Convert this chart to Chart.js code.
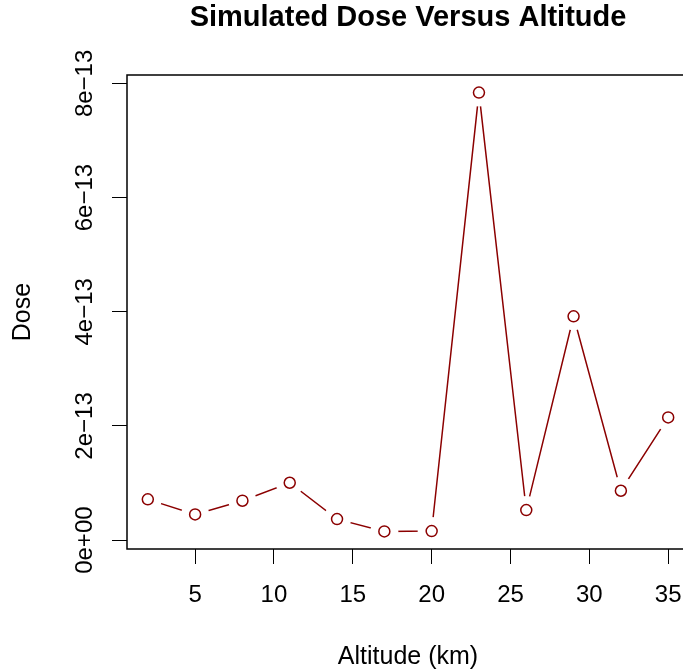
<!DOCTYPE html>
<html>
<head>
<meta charset="utf-8">
<script src="https://cdn.jsdelivr.net/npm/chart.js@4/dist/chart.umd.min.js"></script>
<style>
  html, body { margin: 0; padding: 0; overflow: hidden; background: #fff; }
  canvas { display: block; }
</style>
</head>
<body>
<canvas id="doseChart" width="700" height="671"></canvas>
<script>
// altitude (km) and simulated dose
const altitudes = [2, 5, 8, 11, 14, 17, 20, 23, 26, 29, 32, 35];
const doses = [0.714e-13, 0.45e-13, 0.69e-13, 1.005e-13, 0.368e-13, 0.152e-13,
               0.158e-13, 7.84e-13, 0.526e-13, 3.92e-13, 0.865e-13, 2.15e-13];
const xTicks = [5, 10, 15, 20, 25, 30, 35];
const yTicks = [0, 2e-13, 4e-13, 6e-13, 8e-13];
const yTickLabels = ["0e+00", "2e\u221213", "4e\u221213", "6e\u221213", "8e\u221213"];

const FONT = "'Liberation Sans', Arial, Helvetica, sans-serif";
const RED = "#8B0000";

const points = altitudes.map((a, i) => ({ x: a, y: doses[i] }));

// R-style extras: box, rotated y labels, main title
const rStyle = {
  id: "rStyle",
  afterDraw(chart) {
    const { ctx, chartArea } = chart;
    const yScale = chart.scales.y;
    ctx.save();
    ctx.strokeStyle = "#000";
    ctx.lineWidth = 1.5;
    ctx.strokeRect(chartArea.left, chartArea.top,
                   chartArea.right - chartArea.left, chartArea.bottom - chartArea.top);

    ctx.fillStyle = "#000";
    ctx.font = "24px " + FONT;
    ctx.textAlign = "center";
    ctx.textBaseline = "middle";
    yTicks.forEach((v, i) => {
      const y = yScale.getPixelForValue(v);
      ctx.save();
      ctx.translate(85, y);
      ctx.rotate(-Math.PI / 2);
      ctx.fillText(yTickLabels[i], 0, 0);
      ctx.restore();
    });

    ctx.font = "bold 29px " + FONT;
    ctx.textBaseline = "alphabetic";
    ctx.fillText("Simulated Dose Versus Altitude",
                 (chartArea.left + chartArea.right) / 2, 26);
    ctx.restore();
  }
};

new Chart(document.getElementById("doseChart"), {
  type: "scatter",
  data: {
    datasets: [
      {
        // connecting line
        data: points,
        showLine: true,
        borderColor: RED,
        borderWidth: 1.5,
        pointRadius: 0,
        order: 3
      },
      {
        // white gap round each point, like type = "b"
        data: points,
        showLine: false,
        pointRadius: 14,
        pointBackgroundColor: "#fff",
        pointBorderWidth: 0,
        pointBorderColor: "#fff",
        order: 2
      },
      {
        data: points,
        showLine: false,
        pointRadius: 5.5,
        pointBorderWidth: 1.5,
        pointBorderColor: RED,
        pointBackgroundColor: "#fff",
        order: 1
      }
    ]
  },
  options: {
    responsive: false,
    animation: false,
    layout: { autoPadding: false, padding: { left: 0, right: 11, top: 75, bottom: 0 } },
    plugins: {
      legend: { display: false },
      tooltip: { enabled: false },
      title: { display: false }
    },
    scales: {
      x: {
        type: "linear",
        min: 0.68,
        max: 36.32,
        afterBuildTicks: (s) => { s.ticks = xTicks.map((v) => ({ value: v })); },
        afterFit: (s) => { s.height = 122; },
        border: { display: false },
        grid: { drawOnChartArea: false, drawTicks: true, tickLength: 15, color: "#000", lineWidth: 1 },
        ticks: { color: "#000", padding: 17, font: { family: FONT, size: 24 }, maxRotation: 0 },
        title: {
          display: true,
          text: "Altitude (km)",
          color: "#000",
          font: { family: FONT, size: 25, lineHeight: 1.15 },
          padding: { top: 0, bottom: 0 }
        }
      },
      y: {
        type: "linear",
        min: -0.1555e-13,
        max: 8.1475e-13,
        afterBuildTicks: (s) => { s.ticks = yTicks.map((v) => ({ value: v })); },
        afterFit: (s) => { s.width = 127; },
        border: { display: false },
        grid: { drawOnChartArea: false, drawTicks: true, tickLength: 15, color: "#000", lineWidth: 1 },
        ticks: { display: false },
        title: {
          display: true,
          text: "Dose",
          color: "#000",
          font: { family: FONT, size: 25 },
          padding: { top: 8, bottom: 0 }
        }
      }
    }
  },
  plugins: [rStyle]
});
</script>
</body>
</html>
